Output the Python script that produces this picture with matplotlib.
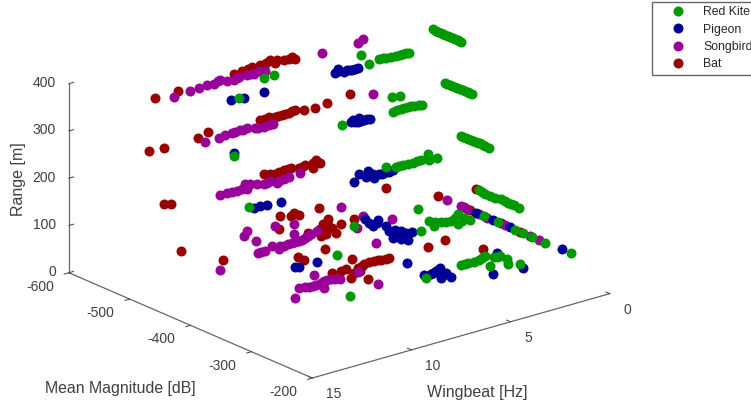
import matplotlib
matplotlib.use('Agg')
from matplotlib import pyplot as plt
from matplotlib.lines import Line2D

plt.rcParams['font.family'] = ['Liberation Sans', 'DejaVu Sans']

# (wingbeat Hz, mean magnitude dB), grouped by range
kite_400 = [(8.65,-487),(8.13,-487),(10.80,-457),(4.10,-476),(4.46,-450),(3.81,-455),(3.52,-453),(3.08,-451),
            (2.73,-451),(2.48,-449),(0.07,-488),(0.13,-478),(0.12,-470),(0.11,-463),(0.10,-455),(0.09,-447),(0.13,-441),
            (0.10,-483),(0.12,-474),(0.11,-467),(0.10,-459),(0.09,-451),(0.11,-444),(3.66,-454),(3.30,-452),(2.90,-451),(2.60,-450)]
kite_300 = [(11.76,-434),(6.25,-437),(2.75,-468),(2.44,-465),(3.77,-433),(3.32,-435),(2.96,-435),(2.71,-433),
            (2.40,-430),(0.16,-466),(0.15,-458),(0.14,-450),(0.13,-442),(0.12,-434),(0.11,-427),(0.09,-423),
            (0.15,-462),(0.14,-454),(0.13,-446),(0.12,-438),(0.11,-430),(3.55,-434),(3.15,-435),(2.85,-434),(2.55,-431)]
kite_200 = [(11.55,-417),(4.57,-419),(4.27,-412),(3.92,-412),(3.41,-412),(3.02,-412),(2.39,-421),(2.78,-407),
            (2.40,-406),(0.06,-443),(0.05,-435),(0.04,-427),(0.03,-419),(0.02,-412),(0.08,-402),(0.06,-397),
            (0.05,-439),(0.04,-431),(0.03,-423),(0.03,-415),(0.05,-407),(4.10,-412),(3.65,-412),(3.20,-412)]
kite_100 = [(8.89,-358),(6.35,-413),(3.22,-410),(4.67,-358),(3.73,-376),(3.90,-361),(3.43,-366),(3.06,-362),
            (2.36,-373),(3.03,-350),(2.46,-360),(2.39,-351),(0.04,-414),(0.11,-401),(0.09,-385),(0.01,-379),
            (0.05,-365),(0.03,-357),(0.06,-347),(0.08,-408),(0.10,-393),(0.03,-372),(0.04,-361),
            (3.58,-370),(3.25,-364),(2.70,-366),(2.70,-355)]
kite_50 = [(9.72,-310),(6.16,-302),(4.19,-308),(3.81,-308),(3.30,-308),(2.81,-313),(3.39,-287),(2.63,-305),
           (2.35,-303),(2.35,-292),(2.67,-280),(2.31,-272),(0.07,-405),(0.06,-382),(0.08,-353),(0.05,-341),
           (0.05,-326),(0.08,-304),(0.0,-264),(4.00,-308),(3.55,-308),(3.05,-310),(2.50,-304)]

pigeon_400 = [(6.12,-452),(5.75,-459),(5.78,-448),(5.48,-449),(5.26,-448),(5.07,-448),(11.19,-458),(10.65,-454),(9.63,-455),
              (5.90,-453),(5.60,-450),(5.37,-448)]
pigeon_300 = [(11.55,-441),(5.81,-436),(5.53,-433),(5.27,-432),(4.95,-432),(5.22,-442),(5.65,-434),(5.40,-432),(5.10,-432),(5.60,-440)]
pigeon_200 = [(11.47,-411),(11.15,-412),(10.86,-410),(10.23,-407),(6.59,-405),(5.88,-420),(5.40,-421),(5.88,-409),
              (5.46,-411),(5.71,-401),(5.27,-407),(5.05,-406),(4.57,-407),(5.60,-415),(5.15,-406),(4.80,-407)]
pigeon_100 = [(5.55,-422),(5.68,-410),(5.77,-401),(5.20,-411),(5.38,-392),(5.64,-379),(6.01,-361),(5.39,-377),
              (5.83,-353),(5.26,-363),(5.69,-346),(5.01,-362),(5.45,-405),(5.55,-370),(5.30,-370)]
pigeon_50 = [(9.39,-412),(9.24,-409),(8.37,-409),(5.69,-348),(6.01,-310),(5.73,-307),(5.37,-311),(5.01,-315),
             (5.71,-292),(5.21,-300),(5.33,-288),(3.82,-267),(2.50,-261),(2.23,-312),(0.10,-417),(0.08,-390),
             (0.05,-363),(0.0,-279),(5.55,-309),(5.20,-313),(5.50,-296)]

song_400 = [(12.70,-502),(11.80,-505),(11.31,-506),(10.86,-508),(10.58,-506),(10.12,-511),(9.98,-504),(9.69,-502),
            (9.33,-505),(8.95,-505),(8.67,-502),(8.31,-506),(8.13,-502),(5.14,-506),(3.32,-505),(2.92,-511),
            (10.30,-508),(9.50,-503),(8.80,-503)]
song_300 = [(11.59,-487),(10.88,-487),(10.49,-490),(10.21,-488),(9.76,-490),(9.41,-490),(9.16,-485),(8.75,-483),
            (8.27,-484),(3.11,-487),(10.05,-489),(9.60,-490),(9.00,-484),(8.50,-483)]
song_200 = [(11.59,-463),(11.24,-463),(10.79,-461),(10.06,-472),(10.35,-459),(9.70,-464),(9.49,-459),(9.10,-462),
            (9.02,-453),(8.53,-458),(8.24,-459),(7.63,-461),(11.00,-462),(10.50,-462),(9.30,-460),(8.80,-456),(9.90,-468)]
song_100 = [(13.51,-400),(8.77,-465),(9.97,-472),(10.41,-462),(10.39,-443),(8.02,-457),(8.72,-434),(5.41,-465),
            (5.37,-430),(6.40,-407),(6.87,-360),(4.71,-404),(11.17,-414),(10.82,-414),(10.26,-421),(10.26,-410),
            (9.87,-413),(9.44,-415),(9.09,-415),(8.70,-418),(8.21,-423),(7.85,-426),(1.71,-412),
            (11.00,-414),(10.05,-415),(9.65,-414),(9.25,-415),(8.90,-416),(8.45,-420)]
song_50 = [(11.53,-341),(10.71,-361),(10.36,-357),(9.34,-381),(9.98,-357),(9.98,-345),(9.49,-361),(9.11,-361),
           (8.83,-355),(7.80,-359),(8.03,-319),(0.0,-445),(0.09,-432),(0.08,-413),(0.09,-398),(0.06,-371),
           (0.05,-329),(0.05,-314),(10.50,-359),(10.15,-357),(9.70,-359),(9.30,-361),(9.00,-358)]

bat_400 = [(13.35,-512),(12.19,-513),(9.27,-515),(8.82,-517),(8.24,-520),(7.86,-519),(7.21,-524),(7.26,-514),
           (6.78,-515),(6.33,-516),(6.38,-510),(8.50,-518),(7.50,-520),(7.00,-518),(6.55,-514)]
bat_300 = [(13.98,-501),(13.32,-498),(11.59,-499),(10.80,-508),(8.45,-500),(7.97,-501),(7.72,-499),(7.37,-499),
           (7.02,-499),(6.62,-502),(6.32,-496),(5.85,-493),(5.17,-497),(3.81,-502),(8.20,-500),(7.55,-499),(7.20,-499),(6.80,-500)]
bat_200 = [(13.91,-479),(13.70,-474),(8.76,-482),(8.45,-475),(7.90,-478),(7.52,-478),(7.31,-473),(6.92,-476),
           (6.85,-464),(6.20,-480),(6.32,-471),(6.04,-371),(8.60,-478),(8.20,-477),(7.70,-478),(7.10,-475),(6.50,-476),(6.30,-476)]
bat_100 = [(13.39,-469),(12.72,-421),(7.89,-484),(8.86,-455),(7.28,-482),(7.55,-477),(7.24,-474),(6.18,-477),
           (5.86,-429),(8.83,-380),(10.21,-379),(10.24,-368),(8.23,-427),(7.79,-425),(7.15,-438),(6.64,-446),
           (7.18,-423),(8.05,-412),(7.38,-409),(6.60,-426),(7.13,-430),(1.71,-427),(5.58,-317),(4.54,-322),
           (4.02,-277),(0.07,-418),(7.60,-428),(6.90,-440),(7.40,-425),(7.80,-412)]
bat_50 = [(8.69,-374),(8.25,-372),(7.10,-393),(8.43,-350),(7.52,-368),(7.06,-374),(6.55,-374),(6.26,-372),
          (5.88,-371),(7.95,-374),(7.99,-360),(7.99,-337),(0.04,-439),(0.07,-428),(0.01,-378),(0.07,-345),
          (6.80,-374),(6.40,-373),(6.05,-371),(7.30,-370),(7.70,-360)]

ranges = [400, 300, 200, 100, 50]
kite = [kite_400, kite_300, kite_200, kite_100, kite_50]
pigeon = [pigeon_400, pigeon_300, pigeon_200, pigeon_100, pigeon_50]
song = [song_400, song_300, song_200, song_100, song_50]
bat = [bat_400, bat_300, bat_200, bat_100, bat_50]

names = ['Red Kite', 'Pigeon', 'Songbird', 'Bat']
colors = ['#009900', '#000099', '#990099', '#990000']
wing_ticks = [0, 5, 10, 15]
mag_ticks = [-600, -500, -400, -300, -200]
range_ticks = [0, 100, 200, 300, 400]


def flatten(groups):
    w, m, r = [], [], []
    for level, pts in zip(ranges, groups):
        for p in pts:
            w.append(p[0])
            m.append(p[1])
            r.append(level)
    return w, m, r


fig = plt.figure(figsize=(7.51, 4.08), dpi=100)
# square axes centred on the middle of the box
ax = fig.add_axes([137/751, 1 - (194 + 197)/408, 394/751, 394/408], projection='3d',
                  proj_type='ortho', computed_zorder=False)
ax.view_init(elev=20.5, azim=51)
ax.set_box_aspect((385, 389, 203), zoom=1.43)

for groups, col, z in zip([bat, song, pigeon, kite], [colors[3], colors[2], colors[1], colors[0]], [1, 2, 3, 4]):
    w, m, r = flatten(groups)
    ax.plot(w, m, r, 'o', color=col, ms=7.2, mew=0, zorder=z, clip_on=False)

ax.set_xlim(0, 15, view_margin=0)
ax.set_ylim(-600, -200, view_margin=0)
ax.set_zlim(0, 400, view_margin=0)
ax.set_xticks(wing_ticks)
ax.set_xticklabels([str(t) for t in wing_ticks], ha='left', va='center')
ax.set_yticks(mag_ticks)
ax.set_yticklabels([str(t) for t in mag_ticks], ha='right', va='center')
ax.set_zticks(range_ticks)
ax.set_zticklabels([str(t) for t in range_ticks], ha='right', va='center')

ax.grid(False)
for axis in [ax.xaxis, ax.yaxis, ax.zaxis]:
    axis.pane.set_visible(False)
    axis.line.set_color('#666666')
    axis.line.set_linewidth(0.9)
    axis._axinfo['tick']['linewidth'] = {True: 0.7, False: 0.7}
    axis._axinfo['tick']['color'] = '#555555'
ax.xaxis._axinfo['tick']['inward_factor'] = 0.0
ax.xaxis._axinfo['tick']['outward_factor'] = 0.2
ax.yaxis._axinfo['tick']['inward_factor'] = 0.2
ax.yaxis._axinfo['tick']['outward_factor'] = 0.0
ax.zaxis._axinfo['tick']['inward_factor'] = 0.0
ax.zaxis._axinfo['tick']['outward_factor'] = 0.2
ax.tick_params(axis='x', labelsize=10, colors='#404040', pad=0.2)
ax.tick_params(axis='y', labelsize=10, colors='#404040', pad=-0.5)
ax.tick_params(axis='z', labelsize=10, colors='#404040', pad=-4.5)

fig.text(120/751, 1 - 388/408, 'Mean Magnitude [dB]', ha='center', va='center', fontsize=11.4, color='#404040')
fig.text(477/751, 1 - 392/408, 'Wingbeat [Hz]', ha='center', va='center', fontsize=11.5, color='#404040')
fig.text(19/751, 1 - 179/408, 'Range [m]', ha='center', va='center', rotation=90, fontsize=11.5, color='#404040')

handles = [Line2D([], [], ls='none', marker='o', color=c, ms=7.2, mew=0) for c in colors]
fig.legend(handles, names, loc='upper left', bbox_to_anchor=(652/751, 1 - 2/408), fontsize=8.8, frameon=True,
           fancybox=False, framealpha=1, edgecolor='#666666', borderaxespad=0, borderpad=0.36,
           labelspacing=0.43, handlelength=3.56, handletextpad=0.27, labelcolor='#262626')

fig.savefig('out.png', dpi=100)
